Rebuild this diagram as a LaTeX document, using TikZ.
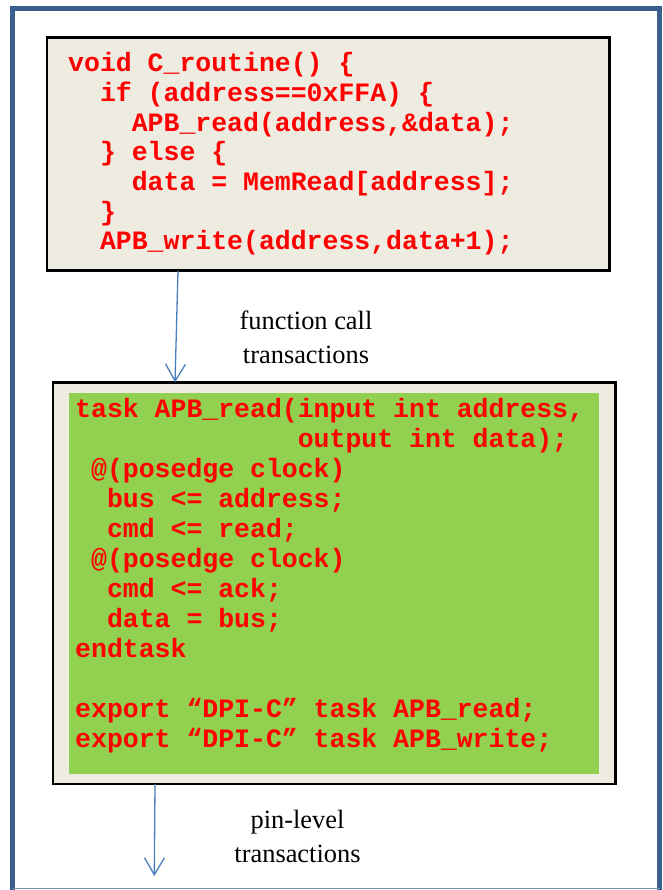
\documentclass[tikz,border=0pt]{standalone}
\usepackage{fontspec}
\setmainfont{Liberation Serif}
\newfontfamily\codefont{Liberation Mono}
\usetikzlibrary{arrows.meta}

\definecolor{framebl}{HTML}{3A5F8E}
\definecolor{framebot}{HTML}{7C8FAE}
\definecolor{boxbg}{HTML}{EEEBE1}
\definecolor{taskbg}{HTML}{92D050}
\definecolor{codered}{HTML}{FF0000}
\definecolor{arrowbl}{HTML}{4A7EBB}

\begin{document}
\begin{tikzpicture}[x=1pt,y=-1pt,
  panel/.style={draw=black, line width=2.7pt, fill=boxbg, inner sep=0pt, outer sep=0pt},
  codeline/.style={anchor=base west, inner sep=0pt, text=codered,
    font=\codefont\bfseries\fontsize{26.5}{30}\selectfont},
  caption/.style={anchor=base, inner sep=0pt, text=black,
    font=\fontsize{26.4}{32}\selectfont},
  flow/.style={draw=arrowbl, line width=1.3pt,
    -{Straight Barb[length=17pt,width=20pt,line width=1.3pt]}}
]
\useasboundingbox (0,0) rectangle (662,890);

% outer slide frame
\draw[framebl, line width=5pt] (12.5,890) -- (12.5,8.5) -- (659.5,8.5) -- (659.5,890);
\draw[framebot, line width=1pt] (12.5,888.5) -- (659.5,888.5);

% C side
\node[panel, minimum width=562.7pt, minimum height=233.4pt] (cbox) at (328.35,154) {};
\node[codeline] (t1) at (68,71.7)  {void C\_routine() \{};
\node[codeline] (t2) at (99.8,101.4) {if (address==0xFFA) \{};
\node[codeline] (t3) at (131.6,131.1) {APB\_read(address,\&data);};
\node[codeline] (t4) at (99.8,160.8) {\} else \{};
\node[codeline] (t5) at (131.6,190.5) {data = MemRead[address];};
\node[codeline] (t6) at (99.8,220.2) {\}};
\node[codeline] (t7) at (99.8,249.9) {APB\_write(address,data+1);};

% SystemVerilog side
\node[panel, minimum width=562.7pt, minimum height=401.7pt] (svbox) at (334.35,583.15) {};
\node[fill=taskbg, inner sep=0pt, minimum width=529.7pt, minimum height=380.8pt] (task) at (334.15,583.1) {};
\node[codeline] (g1)  at (75,417)    {task APB\_read(input int address,};
\node[codeline] (g2)  at (297.6,447) {output int data);};
\node[codeline] (g3)  at (90.9,477)  {@(posedge clock)};
\node[codeline] (g4)  at (106.8,507) {bus <= address;};
\node[codeline] (g5)  at (106.8,537) {cmd <= read;};
\node[codeline] (g6)  at (90.9,567)  {@(posedge clock)};
\node[codeline] (g7)  at (106.8,597) {cmd <= ack;};
\node[codeline] (g8)  at (106.8,627) {data = bus;};
\node[codeline] (g9)  at (75,657)    {endtask};
\node[codeline] (g10) at (75,717)    {export “DPI-C” task APB\_read;};
\node[codeline] (g11) at (75,747)    {export “DPI-C” task APB\_write;};

% connectors and their labels
\draw[flow] ([xshift=-150.35pt]cbox.south) -- ([xshift=-159.35pt]svbox.north);
\node[caption] (l1) at (306,329.5) {function call};
\node[caption] (l2) at (306,363)   {transactions};

\coordinate (pins) at (154.3,876);
\draw[flow] ([xshift=-179.35pt]svbox.south) -- (pins);
\node[caption] (l3) at (297.5,828) {pin-level};
\node[caption] (l4) at (297.5,862) {transactions};
\end{tikzpicture}
\end{document}
